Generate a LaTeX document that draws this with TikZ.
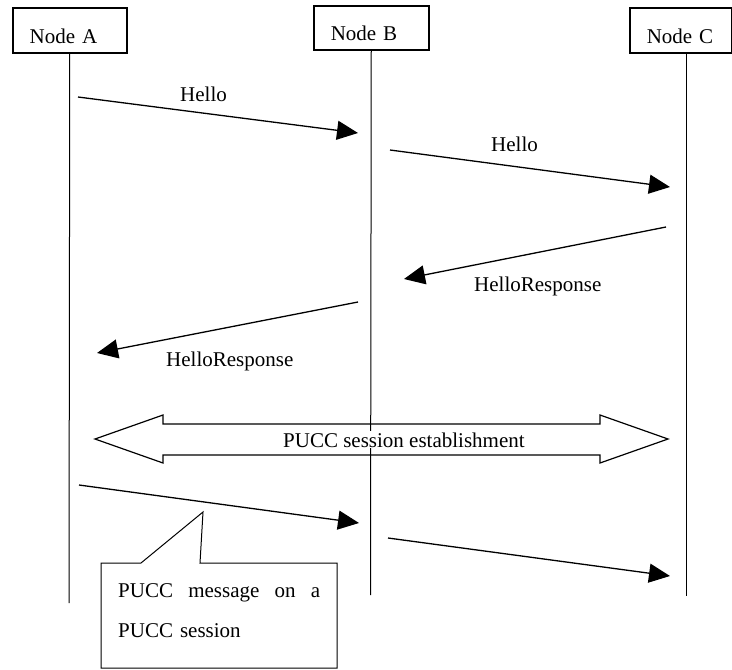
\documentclass[tikz,border=0pt]{standalone}
\usepackage{fontspec}
\setmainfont{Liberation Serif}
\usetikzlibrary{arrows.meta}

\begin{document}
\begin{tikzpicture}[x=1pt,y=-1pt,font=\fontsize{21}{25}\selectfont,
		entity/.style={draw,line width=1.5pt,anchor=north west,inner xsep=17pt,inner ysep=0pt,text depth=9pt,align=left},
		life/.style={line width=1pt},
		msg/.style={line width=1.3pt,-{Triangle[length=21pt,width=19pt]}},
		lbl/.style={anchor=base west,inner sep=0pt}]
	\useasboundingbox (0,0) rectangle (732,670);
	\node[entity,text width=80pt,text height=36pt] (A) at (12,7) {Node A};
	\node[entity,text width=81pt,text height=35pt] (B) at (313,5) {Node B};
	\node[entity,text width=68pt,text height=36pt] (C) at (629,7) {Node C};
	\coordinate (aend) at (69,603);
	\coordinate (bend) at (370.5,595);
	\coordinate (ctop) at (686.5,52);
	\coordinate (cend) at (686.5,596);
	\draw[life] (A.south) -- (aend);
	\draw[life] (B.south) -- (bend);
	\draw[life] (ctop) -- (cend);
	% hello exchange
	\coordinate (h1a) at (78,97);
	\coordinate (h1b) at (358,133);
	\coordinate (h2a) at (390,150);
	\coordinate (h2b) at (670,187);
	\coordinate (r1a) at (666,227);
	\coordinate (r1b) at (404,279);
	\coordinate (r2a) at (358,302);
	\coordinate (r2b) at (97,353);
	\draw[msg] (h1a) -- (h1b);
	\draw[msg] (h2a) -- (h2b);
	\draw[msg] (r1a) -- (r1b);
	\draw[msg] (r2a) -- (r2b);
	\node[lbl] (hello1) at (180,101) {Hello};
	\node[lbl] (hello2) at (491,151) {Hello};
	\node[lbl] (resp1) at (474,291) {HelloResponse};
	\node[lbl] (resp2) at (166,366) {HelloResponse};
	% session
	\draw[line width=1.2pt] (95,439) -- (163,415) -- (163,424) -- (600,424) -- (600,415) -- (668,439)
		-- (600,463) -- (600,455) -- (163,455) -- (163,463) -- cycle;
	\node[lbl,fill=white,inner sep=1pt] (est) at (282,447) {PUCC session establishment};
	% pucc messages
	\coordinate (p1a) at (79,485);
	\coordinate (p1b) at (359,523);
	\coordinate (p2a) at (388,538);
	\coordinate (p2b) at (670,576);
	\draw[msg] (p1a) -- (p1b);
	\draw[msg] (p2a) -- (p2b);
	\coordinate (ptr) at (203,512);
	\draw[line width=1pt] (101,563) -- (141,563) -- (ptr) -- (200,563) -- (337,563) -- (337,668) -- (101,668) -- cycle;
	\node[lbl,text width=202pt,align=left,font=\fontsize{21}{40}\selectfont] (note) at (118,597)
		{PUCC\hfill message\hfill on\hfill a\\PUCC session};
\end{tikzpicture}
\end{document}
